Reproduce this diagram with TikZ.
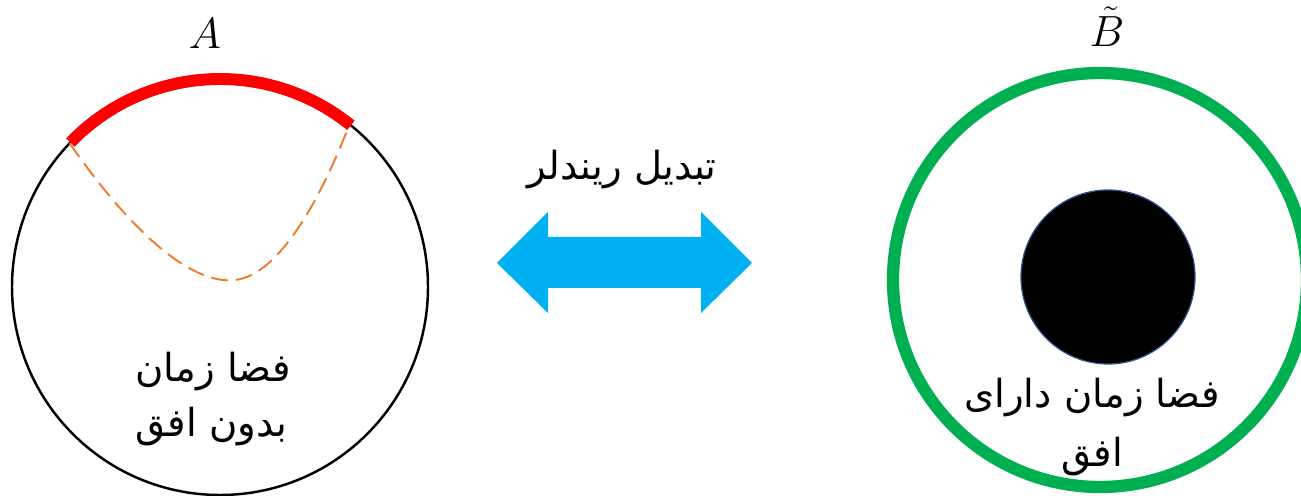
\documentclass[tikz,border=0pt]{standalone}
\usepackage{fontspec}
\usetikzlibrary{calc}
\newfontfamily\arabicfont[Script=Arabic]{DejaVu Sans}
\TeXXeTstate=1
\definecolor{ringred}{HTML}{FF0000}
\definecolor{geoorange}{HTML}{ED7D31}
\definecolor{ringgreen}{HTML}{00B050}
\definecolor{arrowblue}{HTML}{00B0F0}
\definecolor{holeedge}{HTML}{2F528F}
\begin{document}
\begin{tikzpicture}[x=0.02cm,y=0.02cm,
  arabtext/.style={font=\arabicfont\fontsize{22}{26}\selectfont, inner sep=0pt},
  mathlabel/.style={font=\fontsize{28}{32}\selectfont, inner sep=0pt},
  boundary/.style={line width=1.4pt, draw=black},
  region/.style={line width=6.8pt, draw=ringred, line cap=butt},
  geodesic/.style={line width=1.1pt, draw=geoorange, dash pattern=on 9.6pt off 4.5pt},
  farring/.style={line width=7pt, draw=ringgreen},
  hole/.style={fill=black, draw=holeedge, line width=0.7pt},
  biarrow/.style={fill=arrowblue, draw=none}]
\useasboundingbox (0,0) rectangle (1301,496);

% left: space-time without horizon
\coordinate (cA) at (220,209);
\draw[boundary] (cA) circle[radius=208];
\coordinate (gL) at ($(cA)+(136.3:208)$);
\coordinate (gR) at ($(cA)+(51.5:208)$);
\draw[geodesic] (gL) .. controls (130,266) and (190,211) .. (235,216)
                     .. controls (280,221) and (322,300) .. (gR);
\draw[region] ($(cA)+(51:208)$) arc[start angle=51, end angle=136, radius=208];
\node[mathlabel, anchor=base] (labA) at (205,447) {$A$};
\node[arabtext, anchor=base west] (txtA1) at (135,114) {\beginR فضا زمان\endR};
\node[arabtext, anchor=base west] (txtA2) at (135,59) {\beginR بدون افق\endR};

% middle: Rindler transformation
\node[arabtext, anchor=base] (rind) at (622,316) {\beginR تبدیل ریندلر\endR};
\path[biarrow] (497,233) -- (548,284) -- (548,259) -- (701,259) -- (701,284)
  -- (752,233) -- (701,183) -- (701,208) -- (548,208) -- (548,183) -- cycle;

% right: space-time with horizon
\coordinate (cB) at (1100,216);
\draw[farring] (cB) circle[radius=207];
\node[hole, circle, minimum size=174*0.02cm, inner sep=0pt] (bh) at (1108,219) {};
\node[mathlabel, anchor=base] (labB) at (1107,449) {$\tilde{B}$};
\node[arabtext, anchor=base] (txtB1) at (1092,88) {\beginR فضا زمان دارای\endR};
\node[arabtext, anchor=base] (txtB2) at (1092,29) {\beginR افق\endR};
\end{tikzpicture}
\end{document}
